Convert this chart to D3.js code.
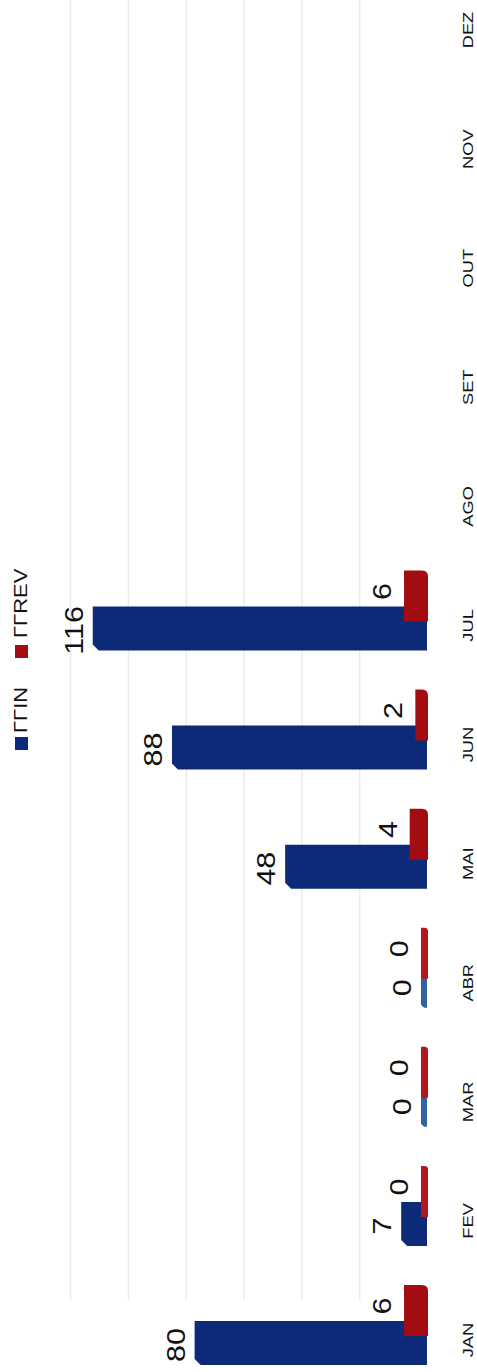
<!DOCTYPE html>
<html>
<head>
<meta charset="utf-8">
<script src="https://cdn.jsdelivr.net/npm/d3@7"></script>
<style>
  html, body { margin: 0; padding: 0; background: #ffffff; }
  svg { display: block; }
  text { font-family: "Liberation Sans", Arial, sans-serif; fill: #111; }
</style>
</head>
<body>
<script>
// ---- data ----
const months = ["JAN","FEV","MAR","ABR","MAI","JUN","JUL","AGO","SET","OUT","NOV","DEZ"];
const ccin   = [80, 7, 0, 0, 48, 88, 116, null, null, null, null, null];
const ccrev  = [6, 0, 0, 0, 4, 2, 6, null, null, null, null, null];
const gridTicks = [20, 40, 60, 80, 100, 120];
const seriesNames = ["ΓΓIN", "ΓΓREV"];
const seriesColors = ["#0d2a78", "#a30d12"];
const zeroColors = ["#3262a6", "#b3161c"];

const W = 477, H = 1372;
const svg = d3.select("body").append("svg").attr("width", W).attr("height", H);

// chart is drawn rotated: categories run bottom->top, values run right->left
const y = d3.scalePoint().domain(months).range([1340, 30]);
const x = d3.scaleLinear().domain([0, 120]).range([421, 81.4]);      // bar front face
const xWall = d3.scaleLinear().domain([0, 120]).range([417.5, 70.7]); // back wall gridlines
const base = 427;
const STRETCH = 1.22;

// gridlines
svg.append("g").selectAll("line").data(gridTicks).join("line")
  .attr("x1", d => xWall(d)).attr("x2", d => xWall(d))
  .attr("y1", 0).attr("y2", 1300)
  .attr("stroke", "#ebebeb").attr("stroke-width", 1.5);

const rows = months.map((m, i) => ({ m, a: ccin[i], b: ccrev[i] }));
const withData = rows.filter(r => r.a != null);

// blue bars (CCIN)
function bluePath(r) {
  const c = y(r.m), x0 = x(r.a), yT = c - 19, yB = c + 25;
  const ch = Math.min(6, (base - x0) / 2);
  return `M${x0},${yT}L${base},${yT}L${base},${yB}L${x0 + ch},${yB}L${x0},${yB - ch}Z`;
}
function redPath(r) {
  const c = y(r.b === 0 ? r.m : r.m), x0 = x(r.b), yT = c - 55, yB = c - 4;
  const rr = Math.min(6, (base + 1 - x0) / 2);
  const bx = base + 1;
  return `M${x0},${yT}L${bx - rr},${yT}Q${bx},${yT} ${bx},${yT + rr}L${bx},${yB}L${x0},${yB}Z`;
}

svg.append("g").selectAll("path").data(withData).join("path")
  .attr("d", bluePath)
  .attr("fill", r => r.a === 0 ? zeroColors[0] : seriesColors[0]);

svg.append("g").selectAll("path").data(withData).join("path")
  .attr("d", redPath)
  .attr("fill", r => r.b === 0 ? zeroColors[1] : seriesColors[1]);

// value labels (rotated)
function rotText(g, px, py, txt, size, anchor) {
  return g.append("text")
    .attr("transform", `translate(${px},${py}) rotate(-90) scale(${STRETCH},1)`)
    .attr("text-anchor", anchor || "middle")
    .attr("font-size", size)
    .text(txt);
}
const lbl = svg.append("g");
withData.forEach(r => {
  const c = y(r.m);
  rotText(lbl, x(r.a) - 10, c + 5, r.a, 25);
  rotText(lbl, x(r.b) - 13, c - 34, r.b, 25);
});

// month labels
const ax = svg.append("g");
months.forEach(m => {
  rotText(ax, 473, y(m), m, 15).attr("fill", "#222");
});

// legend
const lg = svg.append("g");
const legendItems = [
  { name: seriesNames[0], color: seriesColors[0], sq: 737, txt: 733 },
  { name: seriesNames[1], color: seriesColors[1], sq: 645, txt: 638 }
];
legendItems.forEach(d => {
  lg.append("rect").attr("x", 15).attr("y", d.sq).attr("width", 13).attr("height", 13).attr("fill", d.color);
  rotText(lg, 27, d.txt, d.name, 18, "start").attr("fill", "#222");
});
</script>
</body>
</html>
